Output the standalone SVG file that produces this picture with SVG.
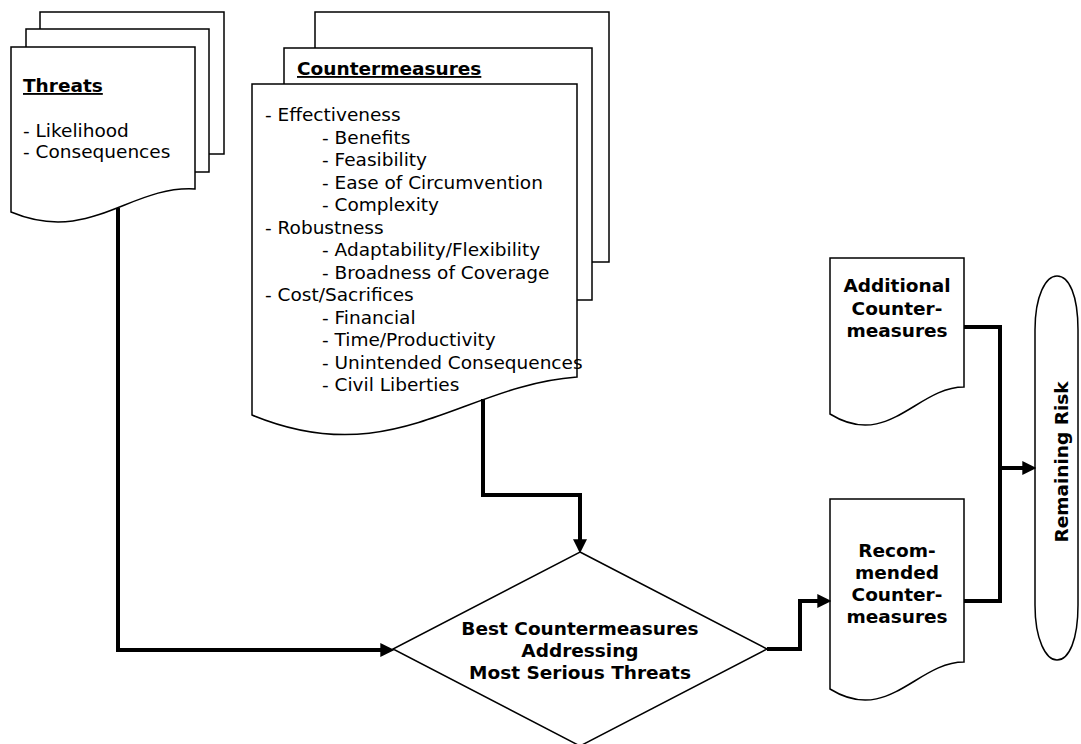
<svg xmlns="http://www.w3.org/2000/svg" width="1081" height="744" viewBox="0 0 1081 744">
<style>
.pg{fill:#fff;stroke:#000;stroke-width:1.5}
.t{font-family:"DejaVu Sans",Verdana,sans-serif;font-size:18.5px;fill:#000}
.b{font-weight:bold}
.c{text-anchor:middle}
.u{text-decoration:underline}
.cn{fill:none;stroke:#000;stroke-width:4;stroke-linejoin:miter}
</style>
<defs>
<marker id="ah" markerUnits="userSpaceOnUse" markerWidth="14" markerHeight="14" refX="4" refY="6" orient="auto" viewBox="0 0 12 12">
<path d="M0,0 L12,6 L0,12 z" fill="#000"/>
</marker>
</defs>
<rect width="1081" height="744" fill="#fff"/>

<g id="threats">
<rect class="pg" x="40" y="12" width="184" height="142"/>
<rect class="pg" x="26" y="29" width="183" height="143"/>
<path class="pg" d="M11,212 V47 H195 V189 C130,185 90,245 11,212 Z"/>
<text class="t b u" x="23" y="92">Threats</text>
<text class="t" x="23" y="137">- Likelihood</text>
<text class="t" x="23" y="158">- Consequences</text>
</g>

<g id="countermeasures">
<rect class="pg" x="315" y="12" width="294" height="250"/>
<rect class="pg" x="284" y="48" width="308" height="252"/>
<text class="t b u" x="297" y="75">Countermeasures</text>
<path class="pg" d="M252,415 V84 H577 V377 C463,385 392,473 252,415 Z"/>
<text class="t" x="265" y="121">- Effectiveness</text>
<text class="t" x="322" y="143.5">- Benefits</text>
<text class="t" x="322" y="166">- Feasibility</text>
<text class="t" x="322" y="188.5">- Ease of Circumvention</text>
<text class="t" x="322" y="211">- Complexity</text>
<text class="t" x="265" y="233.5">- Robustness</text>
<text class="t" x="322" y="256">- Adaptability/Flexibility</text>
<text class="t" x="322" y="278.5">- Broadness of Coverage</text>
<text class="t" x="265" y="301">- Cost/Sacrifices</text>
<text class="t" x="322" y="323.5">- Financial</text>
<text class="t" x="322" y="346">- Time/Productivity</text>
<text class="t" x="322" y="368.5">- Unintended Consequences</text>
<text class="t" x="322" y="391">- Civil Liberties</text>
</g>

<g id="decision">
<path class="pg" d="M580,552 L767,649 L580,746 L393,649 Z"/>
<text class="t b c" x="580" y="635">Best Countermeasures</text>
<text class="t b c" x="580" y="657">Addressing</text>
<text class="t b c" x="580" y="679">Most Serious Threats</text>
</g>

<g id="additional">
<path class="pg" d="M830,414 V258 H964 V387 C917,387 888,450 830,414 Z"/>
<text class="t b c" x="897" y="292">Additional</text>
<text class="t b c" x="897" y="315">Counter-</text>
<text class="t b c" x="897" y="337">measures</text>
</g>

<g id="recommended">
<path class="pg" d="M830,689 V499 H964 V662 C917,662 888,725 830,689 Z"/>
<text class="t b c" x="897" y="557">Recom-</text>
<text class="t b c" x="897" y="579">mended</text>
<text class="t b c" x="897" y="601">Counter-</text>
<text class="t b c" x="897" y="623">measures</text>
</g>

<g id="remaining">
<path class="pg" d="M1035,330 C1035,295 1046,276 1057,276 C1069,276 1078,295 1078,330 V605 C1078,640 1069,660 1057,660 C1046,660 1035,640 1035,605 Z"/>
<text class="t b c" transform="translate(1068,462) rotate(-90)" x="0" y="0">Remaining Risk</text>
</g>

<g id="connectors">
<path class="cn" d="M118,208 V650 H385" marker-end="url(#ah)"/>
<path class="cn" d="M483,399 V495 H580 V544" marker-end="url(#ah)"/>
<path class="cn" d="M767,649 H800 V601 H822" marker-end="url(#ah)"/>
<path class="cn" d="M964,327 H1000 V468 H1027" marker-end="url(#ah)"/>
<path class="cn" d="M964,601 H1000 V468"/>
</g>
</svg>
